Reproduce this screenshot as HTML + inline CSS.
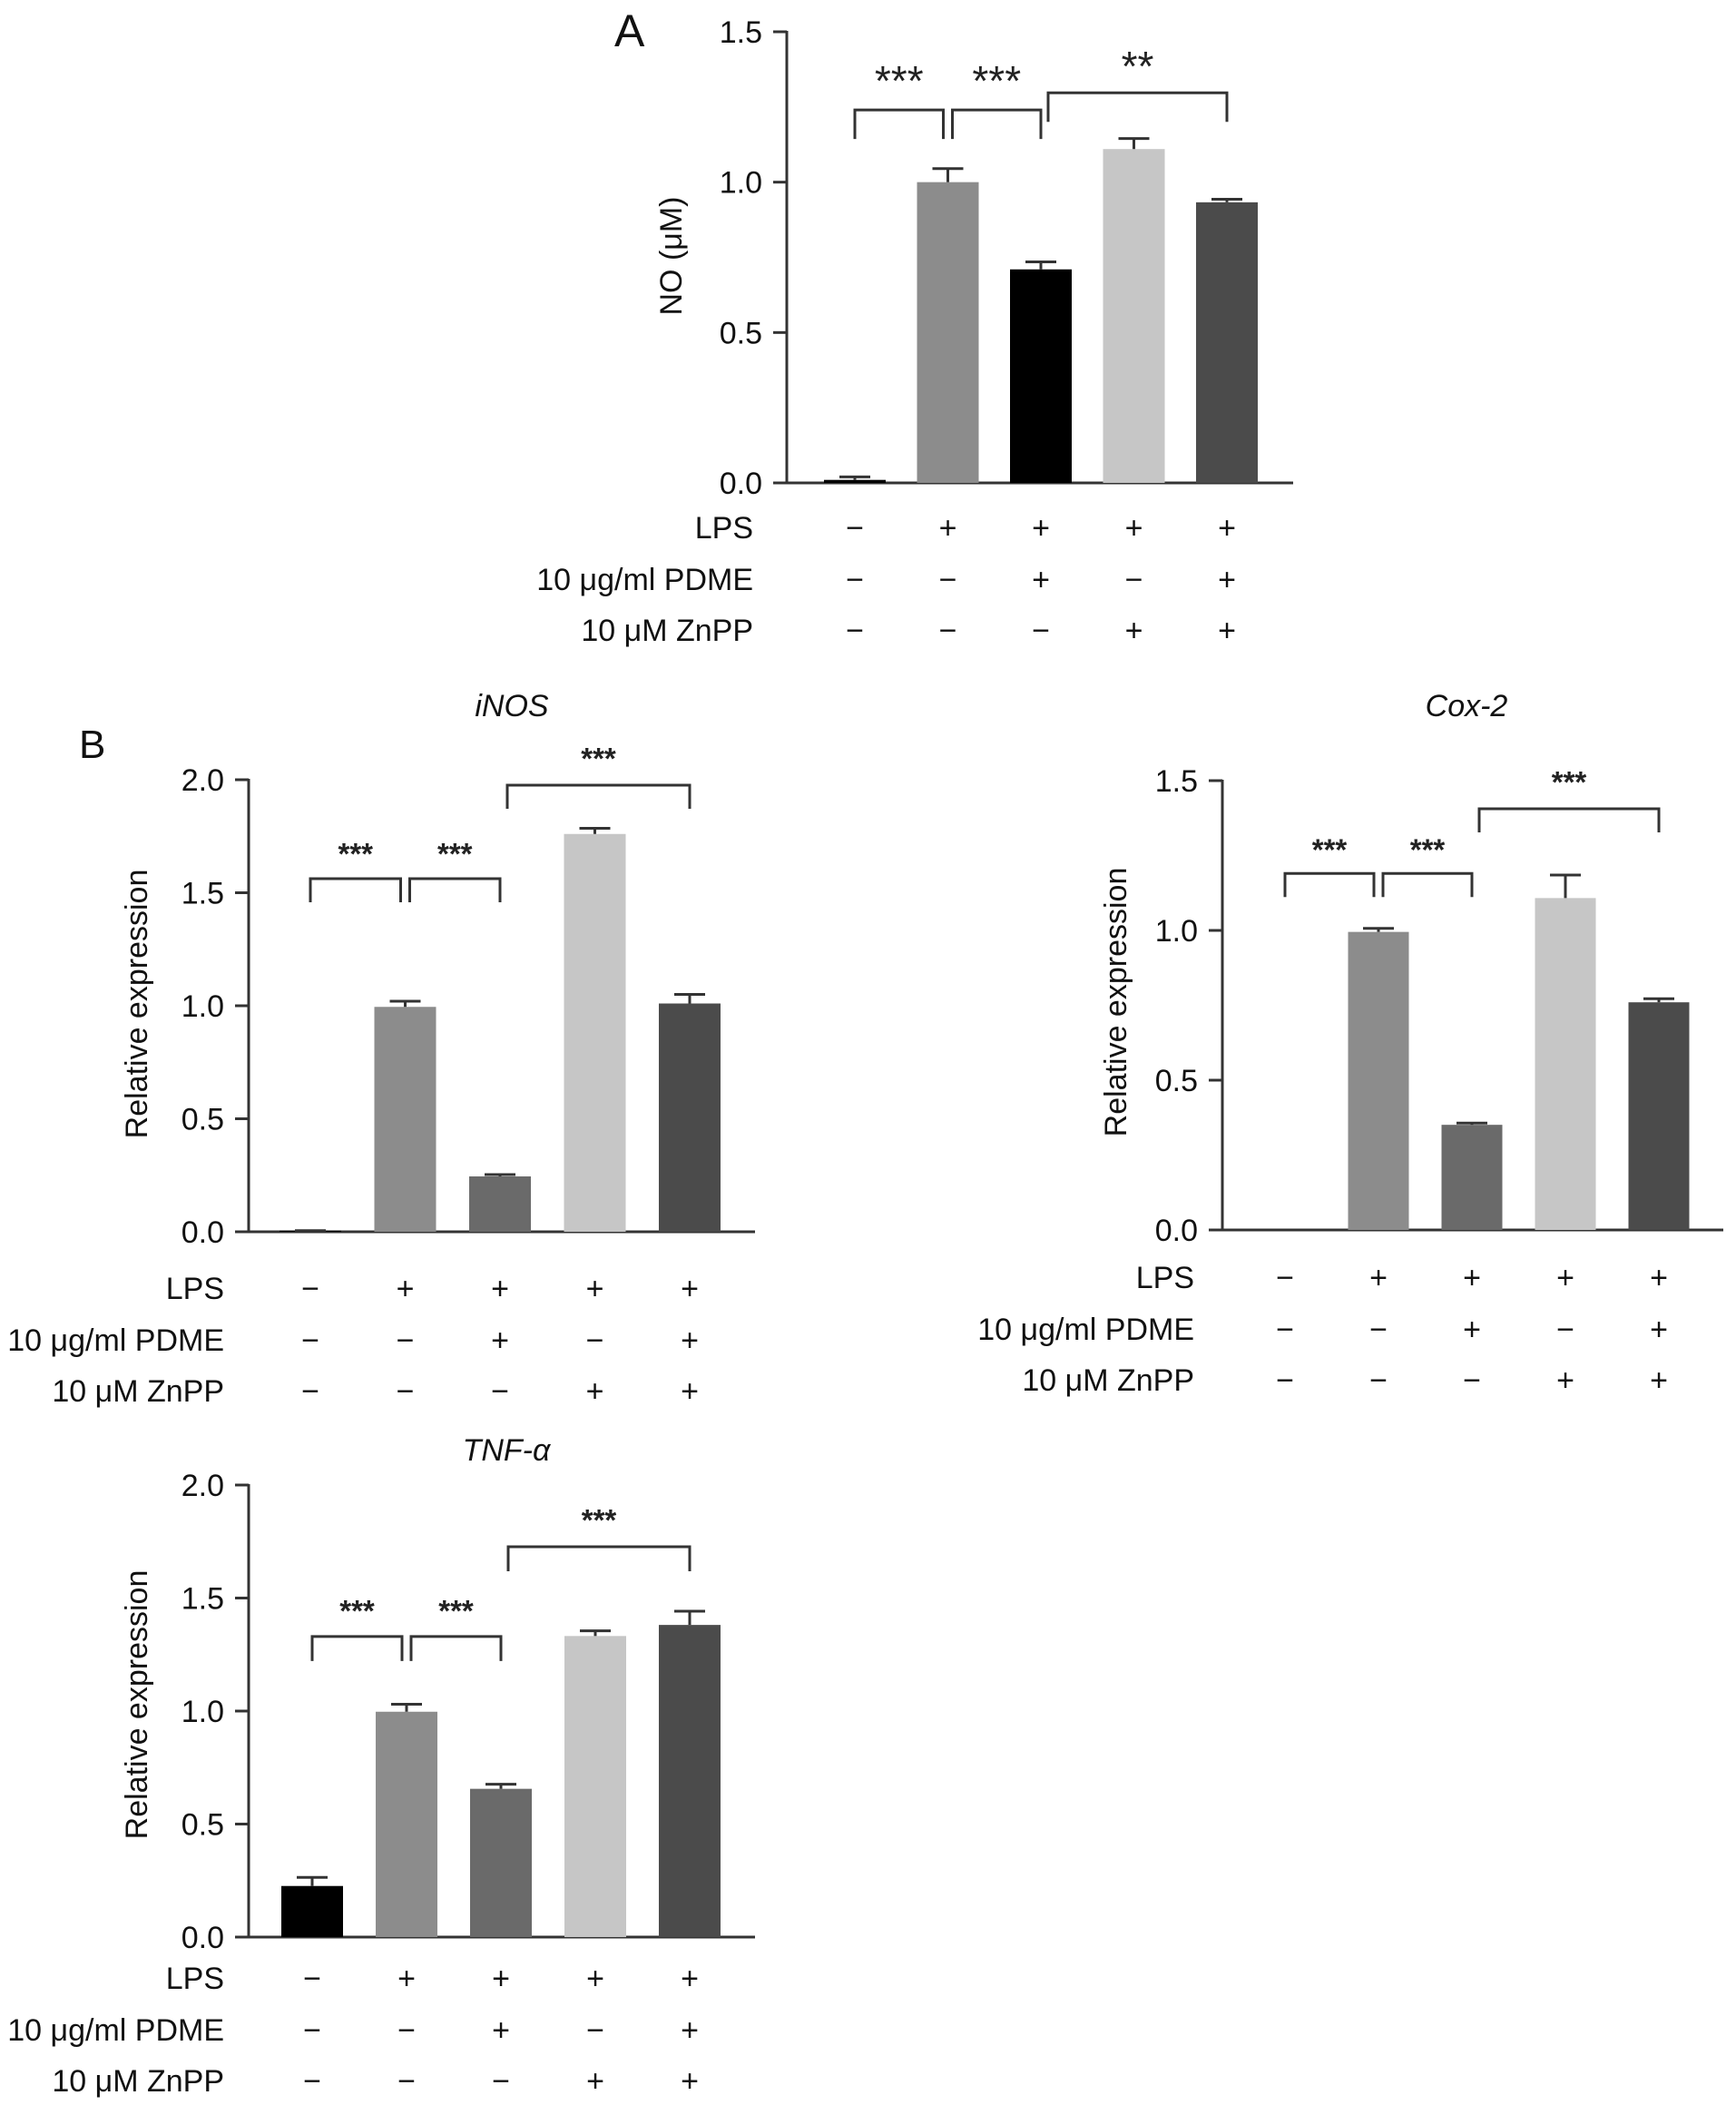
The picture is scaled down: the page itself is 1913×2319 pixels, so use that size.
<!DOCTYPE html>
<html><head><meta charset="utf-8"><style>
html,body{margin:0;padding:0;background:#fff;}
svg{display:block;font-family:"Liberation Sans",Arial,sans-serif;}
</style></head><body>
<svg id="fig" width="1913" height="2319" viewBox="0 0 1913 2319" xmlns="http://www.w3.org/2000/svg">
<text x="677" y="51" font-size="50" fill="#111">A</text>
<text x="87" y="835" font-size="44" fill="#111">B</text>
</svg>
<script>
// ---- data ----
const rowLabels = ["LPS", "10 μg/ml PDME", "10 μM ZnPP"];
const lpsRow  = ["−", "+", "+", "+", "+"];
const pdmeRow = ["−", "−", "+", "−", "+"];
const znppRow = ["−", "−", "−", "+", "+"];
const barColors = ["#000000", "#8c8c8c", "#6a6a6a", "#c6c6c6", "#4b4b4b"];
const barColorsA = ["#000000", "#8c8c8c", "#000000", "#c6c6c6", "#4b4b4b"];

const noValues   = [0.01, 1.00, 0.71, 1.11, 0.933];
const noErrors   = [0.01, 0.045, 0.025, 0.035, 0.01];
const noTicks    = ["0.0", "0.5", "1.0", "1.5"];
const noStars    = ["***", "***", "**"];
const noBrackets = [1.24, 1.24, 1.297];

const inosValues   = [0.005, 0.995, 0.245, 1.76, 1.01];
const inosErrors   = [0.0, 0.025, 0.008, 0.025, 0.04];
const cox2Values   = [0.0, 0.995, 0.351, 1.108, 0.76];
const cox2Errors   = [0.0, 0.012, 0.006, 0.077, 0.012];
const tnfValues    = [0.226, 0.997, 0.656, 1.332, 1.381];
const tnfErrors    = [0.038, 0.033, 0.02, 0.023, 0.061];
const relTicks2    = ["0.0", "0.5", "1.0", "1.5", "2.0"];
const relTicks15   = ["0.0", "0.5", "1.0", "1.5"];
const geneStars    = ["***", "***", "***"];
const inosBrackets = [1.562, 1.562, 1.976];
const cox2Brackets = [1.19, 1.19, 1.406];
const tnfBrackets  = [1.33, 1.33, 1.727];

const NS = "http://www.w3.org/2000/svg";
const svg = document.getElementById("fig");
function mk(tag, attrs, parent) {
  const e = document.createElementNS(NS, tag);
  for (const k in attrs) e.setAttribute(k, attrs[k]);
  (parent || svg).appendChild(e);
  return e;
}

function drawPanel(p) {
  const g = mk("g", {});
  
  
  const ymax = parseFloat(p.ticks[p.ticks.length - 1]);
  const yS = v => p.y0 - v / ymax * (p.y0 - p.ytop);
  const xS = i => p.c0 + i * p.step;
  const col = "#333";
  const fs = 34;
  const ya = mk("line", {x1: p.ax, y1: p.ytop - 1, x2: p.ax, y2: p.y0, stroke: col, "stroke-width": 3}, g);
  
  
  const xa = mk("line", {x1: p.ax - 15, y1: p.y0, x2: p.xend, y2: p.y0, stroke: col, "stroke-width": 3}, g);
  
  
  p.ticks.forEach(t => {
    const y = yS(parseFloat(t));
    const tk = mk("line", {x1: p.ax - 15, y1: y, x2: p.ax, y2: y, stroke: col, "stroke-width": 3}, g);
    
    
    const tl = mk("text", {x: p.ax - 27, y: y + 12, "font-size": fs, "text-anchor": "end", fill: "#111"}, g);
    tl.textContent = t;
    
    
  });
  const yt = mk("text", {x: 0, y: 0, "font-size": fs, "text-anchor": "middle", fill: "#111",
    transform: `translate(${p.ytx},${p.yty}) rotate(-90)`, "dominant-baseline": "central"}, g);
  yt.textContent = p.ytitle;
  
  
  if (p.title) {
    const tt = mk("text", {x: p.tx, y: p.ty, "font-size": fs, "font-style": "italic", "text-anchor": "middle", fill: "#111"}, g);
    tt.textContent = p.title;
    
    
  }
  p.values.forEach((v, i) => {
    const x = xS(i), h = p.y0 - yS(v);
    const b = mk("rect", {x: x - p.bw / 2, y: yS(v), width: p.bw, height: Math.max(h, 0), fill: p.colors[i]}, g);
    
    
    const et = yS(v + p.errors[i]);
    const e1 = mk("line", {x1: x, y1: yS(v), x2: x, y2: et, stroke: col, "stroke-width": 3}, g);
    
    
    const e2 = mk("line", {x1: x - 17, y1: et, x2: x + 17, y2: et, stroke: col, "stroke-width": 3}, g);
    
    
  });
  const pairs = [[xS(0), xS(1) - 5], [xS(1) + 5, xS(2)], [xS(2) + 8, xS(4)]];
  pairs.forEach((pr, k) => {
    const yb = yS(p.brackets[k]);
    const br = mk("polyline", {points: `${pr[0]},${yb + p.drop} ${pr[0]},${yb} ${pr[1]},${yb} ${pr[1]},${yb + p.drop}`,
      fill: "none", stroke: col, "stroke-width": 3}, g);
    
    
    const sy = yb - (k < 2 ? p.sg1 : p.sg2);
    const st = mk("text", {x: (pr[0] + pr[1]) / 2, y: sy + 0.58 * p.sfs, "font-size": p.sfs, "font-weight": p.sw, "text-anchor": "middle", fill: "#222"}, g);
    st.textContent = p.stars[k];
    
    
  });
  const rows = [lpsRow, pdmeRow, znppRow];
  const offs = [45 + p.ro, 102 + p.ro, 158 + p.ro];
  rows.forEach((r, ri) => {
    const cy = p.y0 + offs[ri];
    const lab = mk("text", {x: p.lr, y: cy + 12, "font-size": fs, "text-anchor": "end", fill: "#111"}, g);
    lab.textContent = rowLabels[ri];
    
    
    r.forEach((s, i) => {
      const t = mk("text", {x: xS(i), y: cy + 12, "font-size": 34, "text-anchor": "middle", fill: "#111"}, g);
      t.textContent = s;
      
      
    });
  });
}

drawPanel({name: "no-chart", values: noValues, errors: noErrors, ticks: noTicks, colors: barColorsA,
  stars: noStars, brackets: noBrackets, y0: 532, ytop: 35, ax: 867, xend: 1425, c0: 942, step: 102.5, bw: 68,
  ytitle: "NO (μM)", ytx: 740, yty: 282, lr: 830, drop: 32, sg1: 43, sg2: 40, sfs: 46, sw: "normal", ro: 4});
drawPanel({name: "inos-chart", values: inosValues, errors: inosErrors, ticks: relTicks2, colors: barColors,
  stars: geneStars, brackets: inosBrackets, y0: 1357, ytop: 859, ax: 274, xend: 832, c0: 342, step: 104.5, bw: 68,
  ytitle: "Relative expression", ytx: 151, yty: 1106, lr: 247, drop: 26, sg1: 35, sg2: 37, sfs: 33, sw: "bold", ro: 17,
  title: "iNOS", tx: 564, ty: 789});
drawPanel({name: "cox2-chart", values: cox2Values, errors: cox2Errors, ticks: relTicks15, colors: barColors,
  stars: geneStars, brackets: cox2Brackets, y0: 1355, ytop: 860, ax: 1347, xend: 1899, c0: 1416, step: 103, bw: 67,
  ytitle: "Relative expression", ytx: 1230, yty: 1104, lr: 1316, drop: 26, sg1: 34, sg2: 37, sfs: 33, sw: "bold", ro: 7,
  title: "Cox-2", tx: 1616, ty: 789});
drawPanel({name: "tnf-chart", values: tnfValues, errors: tnfErrors, ticks: relTicks2, colors: barColors,
  stars: geneStars, brackets: tnfBrackets, y0: 2134, ytop: 1636, ax: 274, xend: 832, c0: 344, step: 104, bw: 68,
  ytitle: "Relative expression", ytx: 151, yty: 1878, lr: 247, drop: 27, sg1: 36, sg2: 37, sfs: 33, sw: "bold", ro: 0,
  title: "TNF-α", tx: 558, ty: 1609});
</script>
</body></html>
